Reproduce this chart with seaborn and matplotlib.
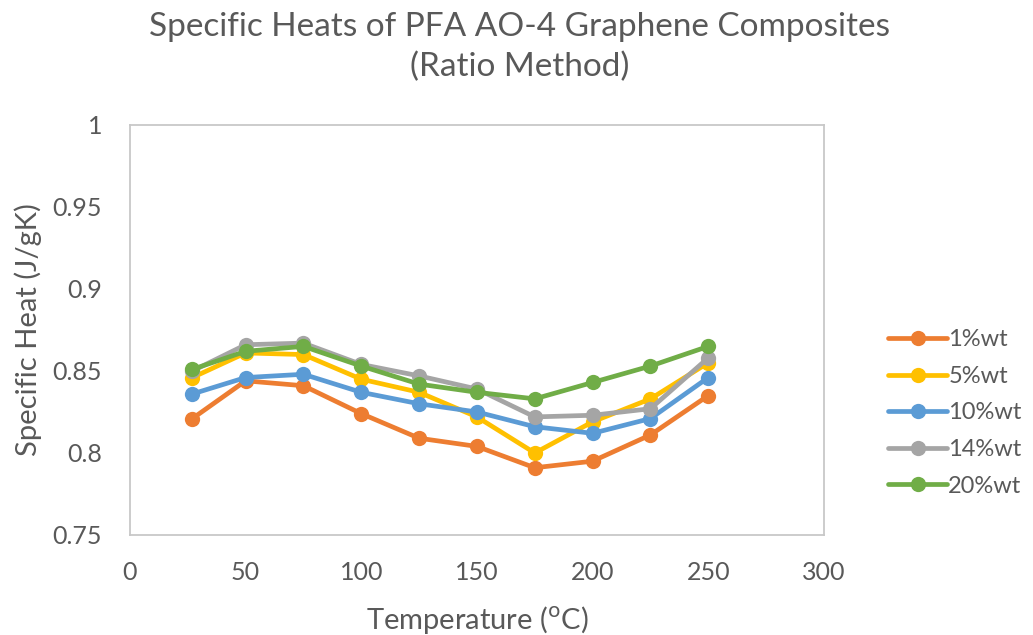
import matplotlib
matplotlib.use("Agg")
import matplotlib.pyplot as plt
import seaborn as sns
import pandas as pd

temps = [27, 50, 75, 100, 125, 150, 175, 200, 225, 250]
s1 = [0.821, 0.844, 0.841, 0.824, 0.809, 0.804, 0.791, 0.795, 0.811, 0.835]
s5 = [0.846, 0.861, 0.860, 0.845, 0.837, 0.822, 0.800, 0.819, 0.833, 0.855]
s10 = [0.836, 0.846, 0.848, 0.837, 0.830, 0.825, 0.816, 0.812, 0.821, 0.846]
s14 = [0.850, 0.866, 0.867, 0.854, 0.847, 0.839, 0.822, 0.823, 0.827, 0.858]
s20 = [0.851, 0.862, 0.865, 0.853, 0.842, 0.837, 0.833, 0.843, 0.853, 0.865]
labels = ["1%wt", "5%wt", "10%wt", "14%wt", "20%wt"]
colors = ["#ED7D31", "#FFC000", "#5B9BD5", "#A5A5A5", "#70AD47"]

frames = []
for lab, vals in zip(labels, [s1, s5, s10, s14, s20]):
    frames.append(pd.DataFrame({"T": temps, "cp": vals, "series": lab}))
df = pd.concat(frames, ignore_index=True)

sns.set_style("white")
plt.rcParams["font.family"] = ["Lato", "DejaVu Sans"]
txt = "#595959"

fig = plt.figure(figsize=(10.33, 6.35), dpi=100)
ax = fig.add_axes([0.1258, 0.1575, 0.6718, 0.6457])

sns.lineplot(data=df, x="T", y="cp", hue="series", hue_order=labels,
             palette=colors, marker="o", markersize=11, markeredgewidth=0,
             linewidth=3.4, ax=ax, sort=False)

ax.set_xlim(0, 300)
ax.set_ylim(0.75, 1.0)
ax.set_xticks([0, 50, 100, 150, 200, 250, 300])
ax.set_yticks([0.75, 0.8, 0.85, 0.9, 0.95, 1.0])
ax.set_yticklabels(["0.75", "0.8", "0.85", "0.9", "0.95", "1"])
ax.tick_params(axis="both", labelsize=18, colors=txt, length=0)
ax.tick_params(axis="y", pad=20)
ax.tick_params(axis="x", pad=19)
for sp in ax.spines.values():
    sp.set_visible(True)
    sp.set_color("#C8C8C8")
    sp.set_linewidth(1.3)

ax.set_xlabel("Temperature ($^{\\mathrm{o}}$C)", fontsize=21, color=txt, labelpad=14)
ax.set_ylabel("Specific Heat (J/gK)", fontsize=21, color=txt, labelpad=8)
fig.text(0.503, 1 - 47 / 635, "Specific Heats of PFA AO-4 Graphene Composites\n(Ratio Method)",
         ha="center", va="center", fontsize=24, color=txt, linespacing=1.38)

leg = ax.legend(loc="center left", bbox_to_anchor=(888 / 1033, 1 - 413 / 635),
                bbox_transform=fig.transFigure, frameon=False, borderpad=0,
                borderaxespad=0, fontsize=17, labelcolor=txt, handlelength=2.5,
                labelspacing=0.66, handletextpad=0.05)

fig.savefig("out.png", dpi=100)
